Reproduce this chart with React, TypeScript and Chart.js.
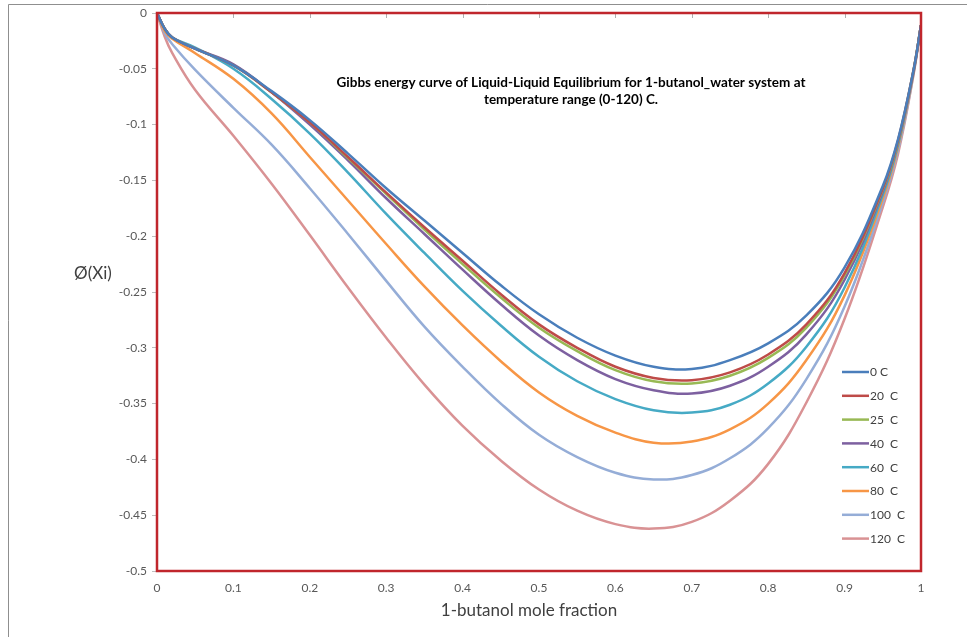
import React, { useEffect, useRef } from "react";
import { Chart, registerables } from "chart.js";

Chart.register(...registerables);

// 1-butanol mole fraction
const xValues = [0, 0.01, 0.02, 0.05, 0.1, 0.15, 0.2, 0.25, 0.3, 0.35, 0.4, 0.45, 0.5, 0.55, 0.6, 0.65, 0.7, 0.75, 0.8, 0.85, 0.9, 0.95, 0.97, 0.99, 1];

const seriesLabels = ["0 C", "20  C", "25  C", "40  C", "60  C", "80  C", "100  C", "120  C"];
const seriesColors = ["#4A7EBB", "#BE4B48", "#98B954", "#7D60A0", "#46AAC5", "#F79646", "#95ADD7", "#D99294"];

const t0 = [0, -0.014, -0.022, -0.032, -0.047, -0.070, -0.096, -0.126, -0.157, -0.186, -0.215, -0.244, -0.270, -0.291, -0.307, -0.317, -0.319, -0.311, -0.296, -0.271, -0.228, -0.155, -0.113, -0.052, -0.011];
const t20 = [0, -0.014, -0.022, -0.032, -0.047, -0.071, -0.098, -0.129, -0.161, -0.192, -0.222, -0.252, -0.279, -0.300, -0.317, -0.327, -0.329, -0.322, -0.306, -0.279, -0.233, -0.157, -0.114, -0.052, -0.011];
const t25 = [0, -0.014, -0.022, -0.032, -0.047, -0.071, -0.098, -0.130, -0.162, -0.194, -0.225, -0.255, -0.282, -0.303, -0.320, -0.330, -0.332, -0.325, -0.309, -0.282, -0.235, -0.158, -0.115, -0.052, -0.011];
const t40 = [0, -0.014, -0.022, -0.032, -0.046, -0.071, -0.100, -0.132, -0.166, -0.198, -0.230, -0.261, -0.289, -0.311, -0.328, -0.338, -0.341, -0.334, -0.317, -0.288, -0.239, -0.160, -0.116, -0.053, -0.011];
const t60 = [0, -0.014, -0.022, -0.031, -0.050, -0.077, -0.108, -0.143, -0.180, -0.215, -0.249, -0.280, -0.308, -0.330, -0.346, -0.356, -0.358, -0.351, -0.332, -0.299, -0.246, -0.163, -0.118, -0.053, -0.011];
const t80 = [0, -0.016, -0.023, -0.036, -0.059, -0.090, -0.129, -0.168, -0.207, -0.245, -0.280, -0.312, -0.340, -0.361, -0.376, -0.385, -0.384, -0.373, -0.350, -0.311, -0.253, -0.166, -0.120, -0.054, -0.011];
const t100 = [0, -0.018, -0.028, -0.051, -0.085, -0.118, -0.157, -0.198, -0.240, -0.281, -0.317, -0.350, -0.378, -0.398, -0.412, -0.418, -0.414, -0.399, -0.372, -0.328, -0.263, -0.170, -0.123, -0.055, -0.011];
const t120 = [0, -0.021, -0.036, -0.069, -0.110, -0.153, -0.199, -0.246, -0.291, -0.333, -0.370, -0.401, -0.427, -0.446, -0.458, -0.462, -0.456, -0.437, -0.404, -0.349, -0.274, -0.174, -0.126, -0.056, -0.011];

const seriesValues = [t0, t20, t25, t40, t60, t80, t100, t120];

const titleLines = [
  "Gibbs energy curve of Liquid-Liquid Equilibrium for 1-butanol_water system at",
  "temperature range (0-120) C.",
];
const yTitle = "Ø(Xi)";
const xTitle = "1-butanol mole fraction";

const FONT = "Lato, 'Open Sans', sans-serif";

const decor = {
  id: "decor",
  beforeDraw(chart: any) {
    const ctx = chart.ctx;
    ctx.save();
    ctx.fillStyle = "#ffffff";
    ctx.fillRect(0, 0, chart.width, chart.height);
    ctx.strokeStyle = "#8f8f8f";
    ctx.lineWidth = 1;
    ctx.beginPath();
    ctx.moveTo(8.5, chart.height);
    ctx.lineTo(8.5, 4.5);
    ctx.lineTo(chart.width, 4.5);
    ctx.stroke();
    ctx.restore();
  },
  afterDraw(chart: any) {
    const ctx = chart.ctx;
    const a = chart.chartArea;
    const xs = chart.scales.x;
    ctx.save();
    // inward tick marks on top edge (category axis crosses at 0)
    ctx.strokeStyle = "#b0b0b0";
    ctx.lineWidth = 1;
    ctx.beginPath();
    for (let i = 1; i < 10; i++) {
      const px = Math.round(xs.getPixelForValue(i / 10)) + 0.5;
      ctx.moveTo(px, a.top);
      ctx.lineTo(px, a.top + 5);
    }
    ctx.stroke();
    // red plot-area border
    ctx.strokeStyle = "#C0262C";
    ctx.lineWidth = 2.5;
    ctx.strokeRect(a.left, a.top, a.right - a.left, a.bottom - a.top);

    // chart title inside plot
    ctx.fillStyle = "#000000";
    ctx.textAlign = "center";
    ctx.textBaseline = "middle";
    ctx.font = "bold 13.5px " + FONT;
    ctx.fillText(titleLines[0], 571, 83);
    ctx.fillText(titleLines[1], 571, 100);

    // y axis title (horizontal)
    ctx.fillStyle = "#404040";
    ctx.font = "17px " + FONT;
    ctx.textAlign = "center";
    ctx.fillText(yTitle, 93, 274);

    // x axis title
    ctx.font = "17px " + FONT;
    ctx.fillText(xTitle, 529, 611);

    // legend inside plot area
    const ds = chart.data.datasets;
    ctx.font = "12px " + FONT;
    ctx.textAlign = "left";
    for (let i = 0; i < ds.length; i++) {
      const cy = 372 + i * 23.8;
      ctx.strokeStyle = ds[i].borderColor;
      ctx.lineWidth = 2.5;
      ctx.beginPath();
      ctx.moveTo(842, cy);
      ctx.lineTo(869, cy);
      ctx.stroke();
      ctx.fillStyle = "#404040";
      ctx.fillText(ds[i].label, 870, cy + 0.5);
    }
    ctx.restore();
  },
};

function fmt(v: number) {
  return String(Number(Number(v).toFixed(2)));
}

export default function App() {
  const ref = useRef<HTMLCanvasElement | null>(null);
  useEffect(() => {
    if (!ref.current) return;
    const datasets = seriesValues.map((vals, i) => ({
      label: seriesLabels[i],
      data: xValues.map((x, j) => ({ x, y: vals[j] })),
      borderColor: seriesColors[i],
      backgroundColor: seriesColors[i],
      borderWidth: 2.5,
      pointRadius: 0,
      fill: false,
      tension: 0.4,
    }));
    const chart = new Chart(ref.current, {
      type: "line",
      data: { datasets },
      options: {
        responsive: false,
        animation: false,
        layout: { padding: { left: 0, top: 13, right: 46, bottom: 0 } },
        plugins: {
          legend: { display: false },
          title: { display: false },
          tooltip: { enabled: false },
        },
        scales: {
          x: {
            type: "linear",
            min: 0,
            max: 1,
            ticks: {
              stepSize: 0.1,
              padding: 10,
              color: "#595959",
              maxRotation: 0,
              font: { family: FONT, size: 12 },
              callback: (v: any) => fmt(v),
            },
            grid: { display: false, drawTicks: false },
            border: { display: false },
            afterFit: (s: any) => {
              s.height = 66;
            },
          },
          y: {
            type: "linear",
            min: -0.5,
            max: 0,
            ticks: {
              stepSize: 0.05,
              padding: 5,
              color: "#595959",
              font: { family: FONT, size: 12 },
              callback: (v: any) => fmt(v),
            },
            grid: { drawOnChartArea: false, drawTicks: true, tickLength: 5, color: "#bfbfbf" },
            border: { display: false },
            afterFit: (s: any) => {
              s.width = 157;
            },
          },
        },
      },
      plugins: [decor],
    });
    return () => chart.destroy();
  }, []);
  return (
    <div style={{ position: "absolute", left: 0, top: 0, width: 967, height: 637 }}>
      <canvas ref={ref} width={967} height={637} style={{ display: "block", width: 967, height: 637 }} />
    </div>
  );
}
